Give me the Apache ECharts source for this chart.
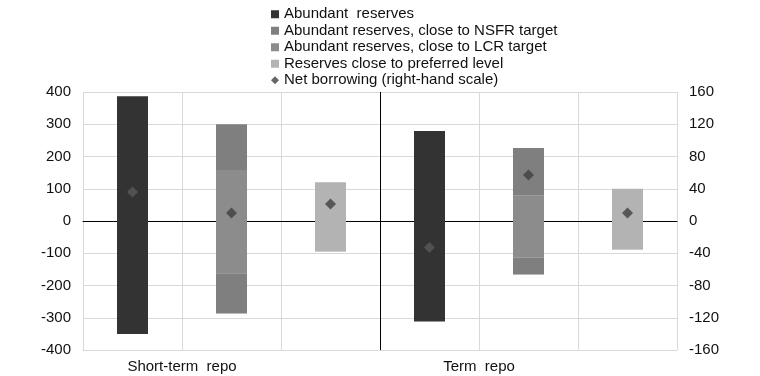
<!DOCTYPE html>
<html>
<head>
<meta charset="utf-8">
<script src="https://cdn.jsdelivr.net/npm/echarts@6/dist/echarts.min.js"></script>
<style>
  html, body { margin: 0; padding: 0; background: #fff; }
  #chart { width: 760px; height: 376px; }
</style>
</head>
<body>
<div id="chart"></div>
<script>
// 6 slots, 3 per repo type
var slots = ['s1', 's2', 's3', 't1', 't2', 't3']
var groupLabels = ['', 'Short-term  repo', '', '', 'Term  repo', '', '']

// bar edges (left scale)
var abundantTop    = [387, null, null, 279, null, null]
var abundantBottom = [-350, null, null, -312, null, null]
var nsfrTop        = [null, 300, null, null, 226, null]
var nsfrBottom     = [null, -287, null, null, -166, null]
var lcrTop         = [null, 158, null, null, 80, null]
var lcrBottom      = [null, -162, null, null, -113, null]
var prefTop        = [null, null, 120, null, null, 100]
var prefBottom     = [null, null, -95, null, null, -89]

// net borrowing (right scale)
var netBorrowing = [36, 10, 21, -33, 57, 10]

var leftTicks = { min: -400, max: 400, interval: 100 }
var rightTicks = { min: -160, max: 160, interval: 40 }

var names = {
  ab: 'Abundant  reserves',
  nsfr: 'Abundant reserves, close to NSFR target',
  lcr: 'Abundant reserves, close to LCR target',
  pref: 'Reserves close to preferred level',
  net: 'Net borrowing (right-hand scale)'
}

// outer NSFR pieces sit on top of the inner LCR piece in the stack
function diff(a, b) {
  return a.map(function (v, i) { return v == null ? null : v - b[i] })
}

function barSeries(name, data, color) {
  return {
    name: name,
    type: 'bar',
    stack: 'range',
    data: data,
    barWidth: 31,
    itemStyle: { color: color },
    emphasis: { disabled: true }
  }
}

var myChart = echarts.init(document.getElementById('chart'))
var font = 'Liberation Sans, Arial, sans-serif'
var grey = '#d9d9d9'

myChart.setOption({
  animation: false,
  textStyle: { fontFamily: font },
  legend: {
    orient: 'vertical',
    left: 266,
    top: 1,
    itemWidth: 8,
    itemHeight: 8,
    itemGap: 0,
    textStyle: { fontSize: 15, color: '#111', lineHeight: 16.5 },
    data: [
      { name: names.ab, icon: 'rect' },
      { name: names.nsfr, icon: 'rect' },
      { name: names.lcr, icon: 'rect' },
      { name: names.pref, icon: 'rect' },
      { name: names.net, icon: 'diamond', itemStyle: { color: '#404040' } }
    ]
  },
  grid: { left: 83, right: 83, top: 92, bottom: 26 },
  xAxis: [
    {
      type: 'category',
      data: slots,
      axisLabel: { show: false },
      axisTick: { show: false },
      axisLine: { show: true, onZero: true, lineStyle: { color: '#000', width: 1 } },
      splitLine: {
        show: true,
        lineStyle: { color: [grey, grey, grey, '#000', grey, grey, grey] }
      }
    },
    {
      type: 'category',
      position: 'bottom',
      data: groupLabels,
      boundaryGap: false,
      axisLine: { show: false },
      axisTick: { show: false },
      splitLine: { show: false },
      axisLabel: { interval: 0, margin: 9, fontSize: 15, color: '#111' }
    }
  ],
  yAxis: [
    {
      type: 'value',
      min: leftTicks.min,
      max: leftTicks.max,
      interval: leftTicks.interval,
      axisLine: { show: false },
      axisTick: { show: false },
      axisLabel: { fontSize: 15, color: '#111', margin: 12 },
      splitLine: { show: true, lineStyle: { color: grey } }
    },
    {
      type: 'value',
      position: 'right',
      min: rightTicks.min,
      max: rightTicks.max,
      interval: rightTicks.interval,
      axisLine: { show: false },
      axisTick: { show: false },
      axisLabel: { fontSize: 15, color: '#111', margin: 12 },
      splitLine: { show: false }
    }
  ],
  series: [
    barSeries(names.ab, abundantTop, '#333333'),
    barSeries(names.ab, abundantBottom, '#333333'),
    barSeries(names.lcr, lcrTop, '#8c8c8c'),
    barSeries(names.lcr, lcrBottom, '#8c8c8c'),
    barSeries(names.nsfr, diff(nsfrTop, lcrTop), '#7f7f7f'),
    barSeries(names.nsfr, diff(nsfrBottom, lcrBottom), '#7f7f7f'),
    barSeries(names.pref, prefTop, '#b3b3b3'),
    barSeries(names.pref, prefBottom, '#b3b3b3'),
    {
      name: names.net,
      type: 'scatter',
      yAxisIndex: 1,
      data: netBorrowing,
      symbol: 'diamond',
      symbolSize: 11,
      z: 5,
      itemStyle: {
        color: function (p) {
          // diamonds read lighter where they sit on the dark bars
          return abundantTop[p.dataIndex] != null ? '#595959' : '#404040'
        }
      }
    }
  ]
})
</script>
</body>
</html>
